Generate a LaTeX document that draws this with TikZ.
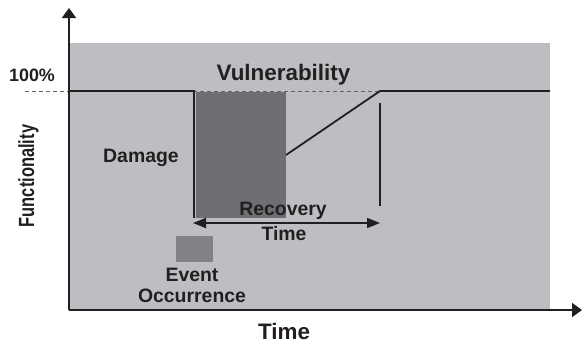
\documentclass[tikz,border=0pt]{standalone}
\usepackage{fontspec}
\setmainfont{Liberation Sans}
\usetikzlibrary{arrows.meta}
\definecolor{panel}{HTML}{BDBEC1}
\definecolor{lossbox}{HTML}{6E6F72}
\definecolor{eventbox}{HTML}{808285}
\definecolor{ink}{HTML}{231F20}
\tikzset{
  lbl/.style={font=\bfseries, text=ink, inner sep=0pt, anchor=base},
  curve/.style={draw=ink, line width=1.8bp},
  axis/.style={draw=ink, line width=1.8bp, -{Triangle[length=10bp,width=14bp]}},
  span/.style={draw=ink, line width=1.8bp, {Triangle[length=13bp,width=10bp]}-{Triangle[length=13bp,width=10bp]}},
  block/.style={inner sep=0pt, draw=none}
}
\begin{document}
\begin{tikzpicture}[x=1bp,y=-1bp]
\useasboundingbox (0,0) rectangle (582,345);
% shaded panel
\fill[panel] (70,43) rectangle (550,310);
% loss of functionality block
\node[block, fill=lossbox, minimum width=90bp, minimum height=126bp] (loss) at (241,155) {};
% event marker
\node[block, fill=eventbox, minimum width=37bp, minimum height=26bp] (event) at (194.5,249) {};
% full-functionality reference level
\coordinate (ref0) at (25,91);
\coordinate (ref1) at (380,91);
\draw[ink!70, line width=0.6bp, dash pattern=on 4bp off 3bp] (ref0) -- (ref1);
% functionality curve
\coordinate (c0) at (70,91);
\coordinate (c1) at (194,91);
\coordinate (c2) at (194,218);
\coordinate (r0) at (286,155);
\coordinate (r1) at (380,91);
\coordinate (r2) at (550,91);
\draw[curve] (c0) -- (c1) -- (c2);
\draw[curve] (r0) -- (r1) -- (r2);
% end of recovery marker
\coordinate (m0) at (380,103);
\coordinate (m1) at (380,206);
\draw[curve] (m0) -- (m1);
% recovery time span
\coordinate (s0) at (193,223);
\coordinate (s1) at (380,223);
\draw[span] (s0) -- (s1);
% axes
\coordinate (o) at (69,310);
\coordinate (ytip) at (69,8);
\coordinate (xtip) at (582,310);
\draw[axis] (o) -- (ytip);
\draw[axis] (o) -- (xtip);
% labels
\node[lbl, font=\bfseries\fontsize{18}{18}\selectfont] (pct) at (32,81) {100\%};
\node[lbl, font=\bfseries\fontsize{22.5}{22.5}\selectfont] (vul) at (283.5,80) {Vulnerability};
\node[lbl, font=\bfseries\fontsize{19.5}{19.5}\selectfont] (dmg) at (141,162) {Damage};
\node[lbl, font=\bfseries\fontsize{19.5}{19.5}\selectfont] (rec) at (283,215.5) {Recovery};
\node[lbl, font=\bfseries\fontsize{19.5}{19.5}\selectfont] (rtime) at (284,240) {Time};
\node[lbl, font=\bfseries\fontsize{19.5}{19.5}\selectfont] (ev1) at (192,281) {Event};
\node[lbl, font=\bfseries\fontsize{19.5}{19.5}\selectfont] (ev2) at (192,302) {Occurrence};
\node[lbl, font=\bfseries\fontsize{22.5}{22.5}\selectfont] (xlab) at (284,339) {Time};
\node[lbl, rotate=90, font=\bfseries\fontsize{22}{22}\selectfont] (ylab) at (34,176) {\scalebox{0.75}[1]{Functionality}};
\end{tikzpicture}
\end{document}
